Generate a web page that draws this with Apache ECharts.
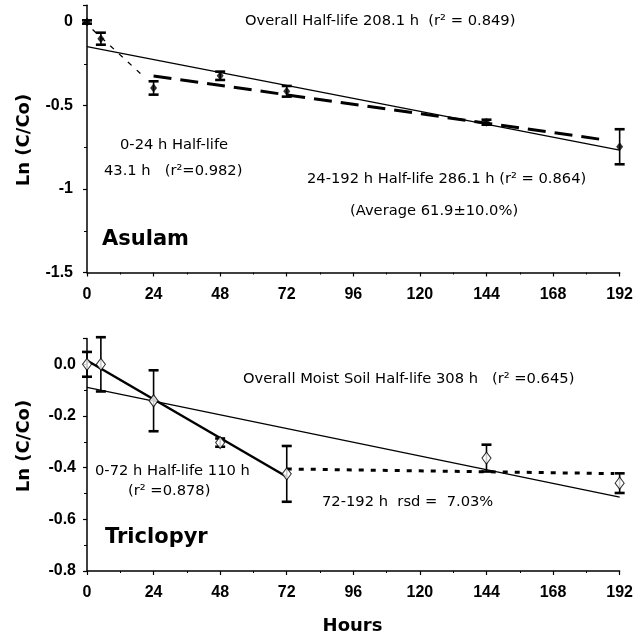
<!DOCTYPE html>
<html>
<head>
<meta charset="utf-8">
<script src="https://cdn.jsdelivr.net/npm/echarts@6/dist/echarts.min.js"></script>
<style>
html,body{margin:0;padding:0;background:#fff;}
#chart{width:636px;height:635px;}
</style>
</head>
<body>
<div id="chart"></div>
<script>
// ---- data ----
const hours = [0, 5, 24, 48, 72, 144, 192];
const xTicks = [0, 24, 48, 72, 96, 120, 144, 168, 192];

const asulamMean = [0, -0.10, -0.395, -0.322, -0.415, -0.60, -0.747];
const asulamErr  = [0.01, 0.036, 0.04, 0.025, 0.032, 0.015, 0.105];
const asulamOverall = [[0, -0.148], [192, -0.767]];
const asulam0to24   = [[2, -0.045], [21, -0.335]];
const asulam24to192 = [[24, -0.323], [187, -0.707]];
const asulamYTicks = [0, -0.5, -1, -1.5];

const triclopyrMean = [0, 0, -0.141, -0.303, -0.424, -0.363, -0.46];
const triclopyrErr  = [0.048, 0.105, 0.118, 0.016, 0.108, 0.052, 0.038];
const triOverall  = [[0, -0.089], [192, -0.514]];
const tri0to72    = [[0, 0.015], [72, -0.435]];
const tri72to192  = [[72, -0.405], [190, -0.423]];
const triYTicks = [0.0, -0.2, -0.4, -0.6, -0.8];

// ---- helpers ----
const pts = (xs, ys) => xs.map((x, i) => [x, ys[i]]);
const bars = (xs, ys, es) => xs.map((x, i) => [x, ys[i] - es[i], ys[i] + es[i]]);

function errRender(params, api) {
  const x = api.value(0), lo = api.value(1), hi = api.value(2);
  const a = api.coord([x, hi]), b = api.coord([x, lo]);
  const cw = 5;
  return {
    type: 'group',
    children: [
      {type: 'line', shape: {x1: a[0], y1: a[1], x2: b[0], y2: b[1]}, style: {stroke: '#000', lineWidth: 1.6}},
      {type: 'line', shape: {x1: a[0] - cw, y1: a[1], x2: a[0] + cw, y2: a[1]}, style: {stroke: '#000', lineWidth: 2.6}},
      {type: 'line', shape: {x1: b[0] - cw, y1: b[1], x2: b[0] + cw, y2: b[1]}, style: {stroke: '#000', lineWidth: 2.6}}
    ]
  };
}

const tickFont = {color: '#000', fontFamily: 'Liberation Sans', fontWeight: 'bold', fontSize: 16};
const near = (v, arr) => arr.some(t => Math.abs(t - v) < 1e-6);

function xAxisCfg(gi) {
  return {
    type: 'value', gridIndex: gi, min: 0, max: 192, interval: 24,
    axisLine: {onZero: false, lineStyle: {color: '#000', width: 1.5}},
    axisTick: {show: true, length: 4, lineStyle: {color: '#000', width: 1.2}},
    minorTick: {show: true, splitNumber: 2, length: 2, lineStyle: {color: '#000', width: 1}},
    splitLine: {show: false},
    axisLabel: Object.assign({margin: 14, formatter: v => near(v, xTicks) ? String(Math.round(v)) : ''}, tickFont)
  };
}

const option = {
  animation: false,
  backgroundColor: '#fff',
  grid: [
    {left: 87, width: 533, top: 5.3, height: 267.2, containLabel: false},
    {left: 87, width: 533, top: 338.5, height: 232.5, containLabel: false}
  ],
  xAxis: [xAxisCfg(0), xAxisCfg(1)],
  yAxis: [
    {
      type: 'value', gridIndex: 0, min: -1.5, max: 0.1, interval: 0.5,
      axisLine: {show: true, onZero: false, lineStyle: {color: '#000', width: 1.5}},
      axisTick: {show: true, length: 4, lineStyle: {color: '#000', width: 1.2}},
      minorTick: {show: true, splitNumber: 2, length: 3, lineStyle: {color: '#000', width: 1}},
      splitLine: {show: false},
      axisLabel: Object.assign({margin: 14, formatter: v => near(v, asulamYTicks) ? String(Math.round(v * 10) / 10) : ''}, tickFont)
    },
    {
      type: 'value', gridIndex: 1, min: -0.8, max: 0.1, interval: 0.2,
      axisLine: {show: true, onZero: false, lineStyle: {color: '#000', width: 1.5}},
      axisTick: {show: true, length: 4, lineStyle: {color: '#000', width: 1.2}},
      minorTick: {show: true, splitNumber: 2, length: 3, lineStyle: {color: '#000', width: 1}},
      splitLine: {show: false},
      axisLabel: Object.assign({margin: 11, formatter: v => near(v, triYTicks) ? (Math.abs(v) < 1e-9 ? '0.0' : v.toFixed(1)) : ''}, tickFont)
    }
  ],
  series: [
    // Asulam
    {type: 'line', xAxisIndex: 0, yAxisIndex: 0, data: asulamOverall, showSymbol: false, silent: true,
     lineStyle: {color: '#000', width: 1.3, type: 'solid'}, z: 2},
    {type: 'line', xAxisIndex: 0, yAxisIndex: 0, data: asulam0to24, showSymbol: false, silent: true,
     lineStyle: {color: '#000', width: 1.3, type: [5, 7]}, z: 2},
    {type: 'line', xAxisIndex: 0, yAxisIndex: 0, data: asulam24to192, showSymbol: false, silent: true,
     lineStyle: {color: '#000', width: 3, type: [18, 9]}, z: 2},
    {type: 'custom', xAxisIndex: 0, yAxisIndex: 0, data: bars(hours, asulamMean, asulamErr),
     renderItem: errRender, encode: {x: 0, y: [1, 2]}, z: 3, silent: true},
    {type: 'scatter', xAxisIndex: 0, yAxisIndex: 0, data: pts(hours, asulamMean), symbol: 'diamond',
     symbolSize: [7, 9], itemStyle: {color: '#000'}, z: 4, silent: true},
    // Triclopyr
    {type: 'line', xAxisIndex: 1, yAxisIndex: 1, data: triOverall, showSymbol: false, silent: true,
     lineStyle: {color: '#000', width: 1.3, type: 'solid'}, z: 2},
    {type: 'line', xAxisIndex: 1, yAxisIndex: 1, data: tri0to72, showSymbol: false, silent: true,
     lineStyle: {color: '#000', width: 2.5, type: 'solid'}, z: 2},
    {type: 'line', xAxisIndex: 1, yAxisIndex: 1, data: tri72to192, showSymbol: false, silent: true,
     lineStyle: {color: '#000', width: 3, type: [5, 7]}, z: 2},
    {type: 'custom', xAxisIndex: 1, yAxisIndex: 1, data: bars(hours, triclopyrMean, triclopyrErr),
     renderItem: errRender, encode: {x: 0, y: [1, 2]}, z: 3, silent: true},
    {type: 'scatter', xAxisIndex: 1, yAxisIndex: 1, data: pts(hours, triclopyrMean), symbol: 'diamond',
     symbolSize: [9, 12], itemStyle: {color: '#fff', borderColor: '#000', borderWidth: 1.1}, z: 4, silent: true}
  ],
  graphic: []
};

const annFont = '14.7px "DejaVu Sans"';
function txt(x, y, text, font, extra) {
  return Object.assign({
    type: 'text', x: x, y: y, silent: true, z: 100,
    style: {text: text, font: font, fill: '#000', textAlign: 'left', textVerticalAlign: 'middle', align: 'left', verticalAlign: 'middle'}
  }, extra || {});
}
function ctxt(x, y, text, font, rot) {
  return {
    type: 'text', x: x, y: y, rotation: rot || 0, silent: true, z: 100,
    style: {text: text, font: font, fill: '#000', textAlign: 'center', textVerticalAlign: 'middle', align: 'center', verticalAlign: 'middle'}
  };
}
option.graphic = [
  txt(245, 21, 'Overall Half-life 208.1 h  (r\u00b2 = 0.849)', annFont),
  txt(120, 145, '0-24 h Half-life', annFont),
  txt(104, 171, '43.1 h   (r\u00b2=0.982)', annFont),
  txt(307, 179, '24-192 h Half-life 286.1 h (r\u00b2 = 0.864)', annFont),
  txt(350, 211, '(Average 61.9\u00b110.0%)', annFont),
  txt(102, 240, 'Asulam', 'bold 21px "DejaVu Sans"'),
  txt(243, 379, 'Overall Moist Soil Half-life 308 h   (r\u00b2 =0.645)', annFont),
  txt(95, 471, '0-72 h Half-life 110 h', annFont),
  txt(128, 491, '(r\u00b2 =0.878)', annFont),
  txt(322, 502, '72-192 h  rsd =  7.03%', annFont),
  txt(105, 538, 'Triclopyr', 'bold 21px "DejaVu Sans"'),
  ctxt(352.5, 626, 'Hours', 'bold 18px "DejaVu Sans"'),
  ctxt(24, 140, 'Ln (C/Co)', 'bold 18px "DejaVu Sans"', Math.PI / 2),
  ctxt(24, 446, 'Ln (C/Co)', 'bold 18px "DejaVu Sans"', Math.PI / 2)
];

const chart = echarts.init(document.getElementById('chart'), null, {renderer: 'canvas'});
chart.setOption(option);
</script>
</body>
</html>
